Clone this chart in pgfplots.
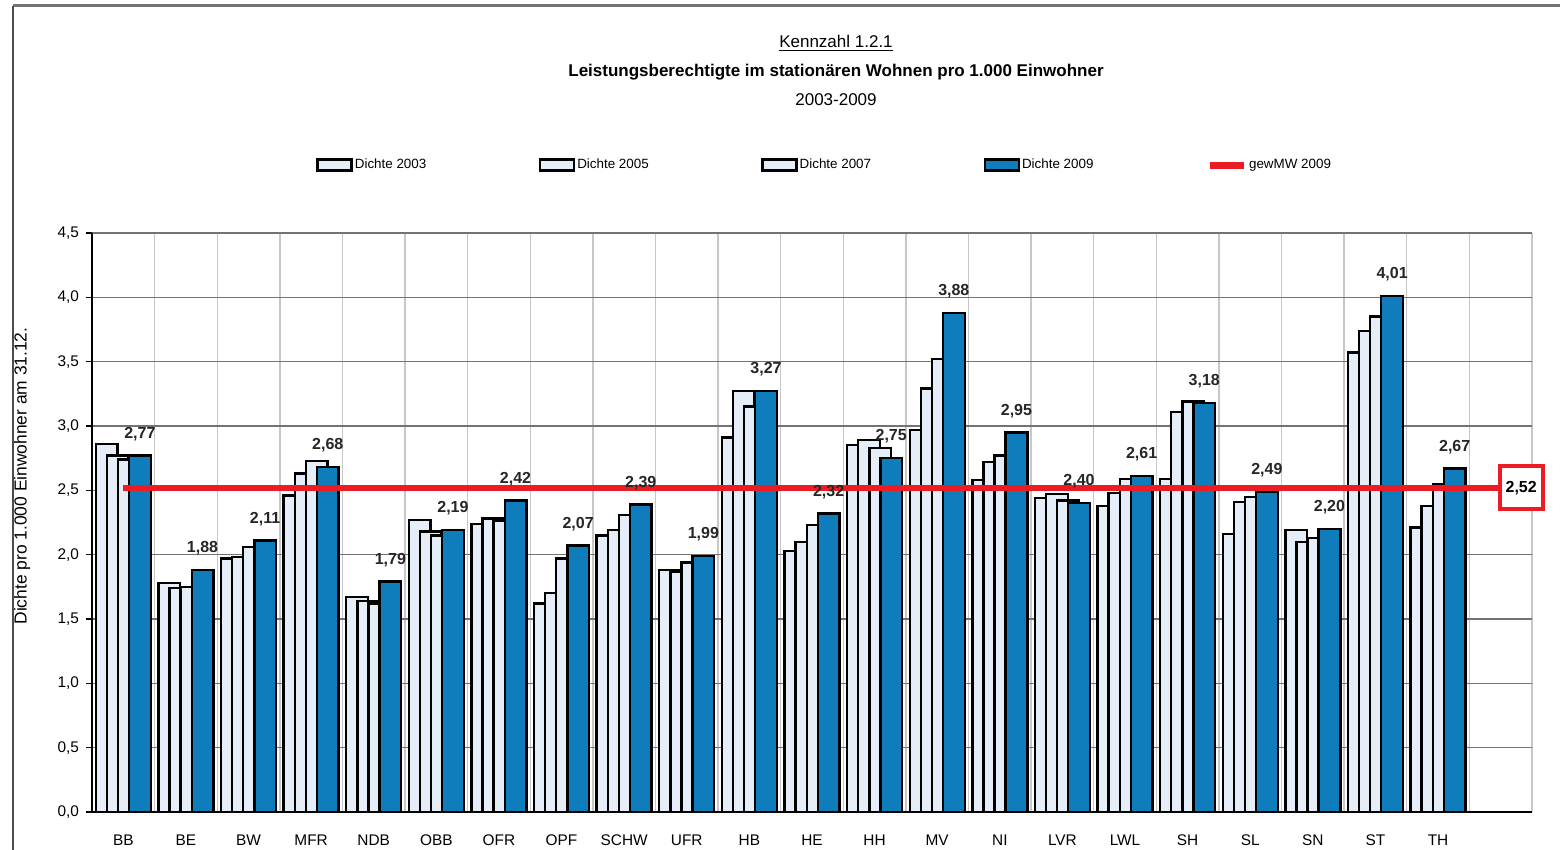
\documentclass[border=0pt]{standalone}
\usepackage{fontspec}
\setmainfont{Liberation Sans}
\usepackage{pgfplots}
\pgfplotsset{compat=1.18}
\usepackage{pgfplotstable}
\definecolor{lightbar}{RGB}{228,237,248}
\definecolor{bluebar}{RGB}{15,124,187}
\definecolor{mwred}{RGB}{236,28,36}

\pgfplotstableread{
x d2003 d2005 d2007 d2009 mw
0 2.86 2.77 2.74 2.77 2.52
1 1.78 1.74 1.75 1.88 2.52
2 1.97 1.98 2.06 2.11 2.52
3 2.46 2.63 2.73 2.68 2.52
4 1.67 1.64 1.62 1.79 2.52
5 2.27 2.18 2.15 2.19 2.52
6 2.24 2.28 2.26 2.42 2.52
7 1.62 1.70 1.97 2.07 2.52
8 2.15 2.19 2.31 2.39 2.52
9 1.88 1.87 1.94 1.99 2.52
10 2.91 3.27 3.15 3.27 2.52
11 2.03 2.10 2.23 2.32 2.52
12 2.85 2.89 2.83 2.75 2.52
13 2.97 3.29 3.52 3.88 2.52
14 2.58 2.72 2.77 2.95 2.52
15 2.44 2.47 2.42 2.40 2.52
16 2.38 2.48 2.59 2.61 2.52
17 2.59 3.11 3.19 3.18 2.52
18 2.16 2.41 2.45 2.49 2.52
19 2.19 2.10 2.13 2.20 2.52
20 3.57 3.74 3.85 4.01 2.52
21 2.21 2.38 2.55 2.67 2.52
}\datatable

\pgfplotstableread{
x mw
0 2.52
22 2.52
}\mwtable

\begin{document}
\begin{tikzpicture}[x=1pt,y=1pt]
\useasboundingbox (0,0) rectangle (780,425);
\begin{axis}[
  at={(46pt,19pt)}, anchor=south west,
  scale only axis, width=720pt, height=289.5pt,
  xmin=-0.5, xmax=22.5, ymin=0, ymax=4.5,
  clip=false,
  axis x line*=bottom, axis y line*=left,
  axis line style={black, line width=0.9pt},
  xtick={0,...,21},
  xticklabels={BB,BE,BW,MFR,NDB,OBB,OFR,OPF,SCHW,UFR,HB,HE,HH,MV,NI,LVR,LWL,SH,SL,SN,ST,TH},
  xtick style={draw=none},
  minor xtick={0.5,1.5,...,22.5},
  xminorgrids=true,
  minor grid style={black!22, line width=0.7pt},
  ytick={0,0.5,...,4.5},
  ymajorgrids=true,
  major grid style={black!55, line width=0.7pt},
  ytick style={black, line width=0.6pt},
  tick align=outside,
  major tick length=3pt,
  /pgf/number format/assume math mode=true,
  yticklabel style={font=\fontsize{7.7}{9}\selectfont,
    /pgf/number format/fixed, /pgf/number format/fixed zerofill,
    /pgf/number format/precision=1, /pgf/number format/use comma},
  xticklabel style={font=\fontsize{7.7}{9}\selectfont, yshift=-5pt},
  ylabel={Dichte pro 1.000 Einwohner am 31.12.},
  ylabel style={at={(axis description cs:-0.0486,0.5803)}, anchor=center, font=\fontsize{8.7}{10}\selectfont},
  legend columns=5,
  legend cell align=left,
  legend style={at={(axis description cs:0.1556,1.1174)}, anchor=west, draw=none, fill=none,
    inner sep=0pt, font=\fontsize{6.7}{8}\selectfont, nodes={inner sep=1pt},
    /tikz/every even column/.append style={column sep=31pt}},
]
\addplot[ybar, bar width=0.3466, bar shift=-0.266, fill=lightbar, draw=black, line width=1.2pt,
  legend image code/.code={\draw[fill=lightbar, draw=black, line width=1.2pt] (0pt,-2.75pt) rectangle (17pt,2.75pt);}]
  table[x=x,y=d2003]{\datatable};
\addlegendentry{\makebox[60pt][l]{Dichte 2003}}
\addplot[ybar, bar width=0.3466, bar shift=-0.0887, fill=lightbar, draw=black, line width=1.2pt,
  legend image code/.code={\draw[fill=lightbar, draw=black, line width=1.2pt] (0pt,-2.75pt) rectangle (17pt,2.75pt);}]
  table[x=x,y=d2005]{\datatable};
\addlegendentry{\makebox[60pt][l]{Dichte 2005}}
\addplot[ybar, bar width=0.3466, bar shift=0.0887, fill=lightbar, draw=black, line width=1.2pt,
  legend image code/.code={\draw[fill=lightbar, draw=black, line width=1.2pt] (0pt,-2.75pt) rectangle (17pt,2.75pt);}]
  table[x=x,y=d2007]{\datatable};
\addlegendentry{\makebox[60pt][l]{Dichte 2007}}
\addplot[ybar, bar width=0.3466, bar shift=0.266, fill=bluebar, draw=black, line width=1.2pt,
  legend image code/.code={\draw[fill=bluebar, draw=black, line width=1.2pt] (0pt,-2.75pt) rectangle (17pt,2.75pt);},
  nodes near coords,
  nodes near coords style={font=\bfseries\fontsize{8}{9}\selectfont, xshift=8.3pt, yshift=3.5pt, text=black!85,
    /pgf/number format/fixed, /pgf/number format/fixed zerofill,
    /pgf/number format/precision=2, /pgf/number format/use comma}]
  table[x=x,y=d2009]{\datatable};
\addlegendentry{\makebox[60pt][l]{Dichte 2009}}
\addplot[mwred, line width=3pt, no markers,
  legend image code/.code={\draw[mwred, line width=3.5pt] (0pt,0pt) -- (17pt,0pt);}]
  table[x=x,y=mw]{\mwtable};
\addlegendentry{gewMW 2009}
\node[draw=mwred, line width=2pt, fill=white, font=\bfseries\fontsize{8}{9}\selectfont,
  minimum width=21.5pt, minimum height=21.5pt, inner sep=1pt, anchor=west, xshift=-1.5pt]
  at (axis cs:22,2.52) {2,52};
\end{axis}
\node[font=\fontsize{8.5}{10}\selectfont] at (418,403.5) {\underline{Kennzahl 1.2.1}};
\node[font=\bfseries\fontsize{8.5}{10}\selectfont] at (418,389) {Leistungsberechtigte im stationären Wohnen pro 1.000 Einwohner};
\node[font=\fontsize{8.5}{10}\selectfont] at (418,375) {2003-2009};
\draw[black!55, line width=1.5pt] (6.5,422) -- (780,422);
\draw[black!70, line width=0.8pt] (6.5,422) -- (6.5,0);
\end{tikzpicture}
\end{document}
